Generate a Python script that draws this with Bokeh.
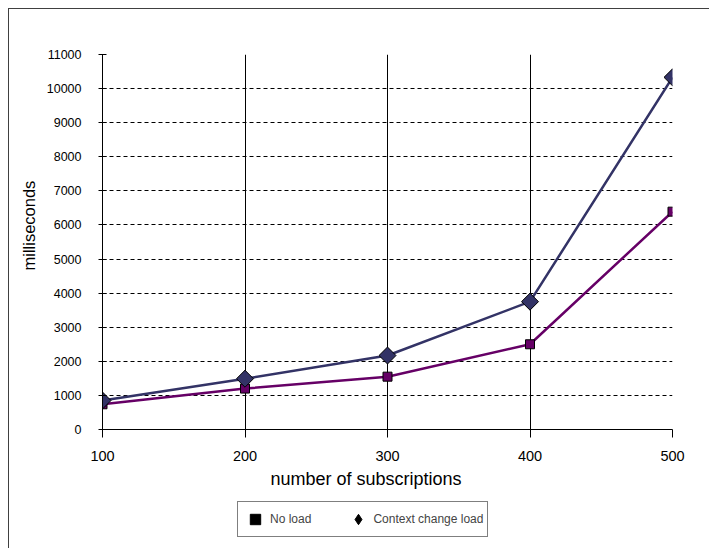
from bokeh.plotting import figure
from bokeh.layouts import column
from bokeh.models import Legend, LegendItem, FixedTicker, Range1d, Title
from bokeh.embed import file_html
from bokeh.resources import INLINE

subscriptions = [100, 200, 300, 400, 500]
no_load = [740, 1200, 1550, 2500, 6390]
context_change_load = [850, 1490, 2170, 3750, 10330]
y_ticks = list(range(0, 12000, 1000))
x_ticks = [100, 200, 300, 400, 500]
series_names = ["No load", "Context change load"]
x_title = "number of subscriptions"
y_title = "milliseconds"

FONT = "Liberation Sans"

p = figure(frame_width=570, frame_height=375, output_backend="svg", toolbar_location=None,
           x_range=Range1d(100, 500), y_range=Range1d(0, 11000),
           min_border_left=93, min_border_right=37, min_border_top=45, min_border_bottom=66)
p.outline_line_color = None
p.background_fill_color = "white"
p.border_fill_color = "white"

# grids
p.xgrid.ticker = FixedTicker(ticks=x_ticks)
p.xgrid.grid_line_color = "black"
p.xgrid.grid_line_width = 1
p.ygrid.ticker = FixedTicker(ticks=y_ticks)
p.ygrid.grid_line_color = "black"
p.ygrid.grid_line_dash = "4 3"
p.ygrid.grid_line_width = 1

# axes
p.xaxis.ticker = FixedTicker(ticks=x_ticks)
p.yaxis.ticker = FixedTicker(ticks=y_ticks)
for ax in (p.xaxis[0], p.yaxis[0]):
    ax.axis_line_color = "black"
    ax.axis_line_width = 1
    ax.major_tick_line_color = "black"
    ax.minor_tick_line_color = None
    ax.major_label_text_font = FONT
    ax.major_label_text_color = "black"
p.xaxis.major_label_text_font_size = "14.5px"
p.yaxis.major_label_text_font_size = "12.5px"
p.xaxis.major_tick_in = 0
p.xaxis.major_tick_out = 8
p.xaxis.major_label_standoff = 13
p.yaxis.major_tick_in = 4
p.yaxis.major_tick_out = 4
p.yaxis.major_label_standoff = 17

# axis titles (offset like the original)
p.add_layout(Title(text=x_title, align="left", offset=168, standoff=6,
                   text_font=FONT, text_font_size="18px", text_font_style="normal",
                   text_color="black"), "below")
p.add_layout(Title(text=y_title, align="left", offset=159, standoff=11,
                   text_font=FONT, text_font_size="16.5px", text_font_style="normal",
                   text_color="black"), "left")

# series
p.line(subscriptions, context_change_load, line_color="#333366", line_width=2.5)
p.line(subscriptions, no_load, line_color="#660066", line_width=2.5)
p.scatter(subscriptions, no_load, marker="square", size=9, fill_color="#660066",
          line_color="black", line_width=1)
p.scatter(subscriptions, context_change_load, marker="square", size=12, angle=0.785398,
          fill_color="#333366", line_color="black", line_width=1)

# legend strip below the chart
q = figure(width=700, height=53, output_backend="svg", toolbar_location=None,
           x_range=Range1d(0, 1), y_range=Range1d(0, 1),
           x_axis_location=None, y_axis_location=None,
           min_border_left=0, min_border_right=0, min_border_top=0, min_border_bottom=0)
q.outline_line_color = None
q.grid.visible = False
q.border_fill_color = "white"

nan = float("nan")
leg_sq = q.scatter([nan], [nan], marker="square", fill_color="black", line_color="black")
leg_dm = q.scatter([nan], [nan], marker="diamond", fill_color="black", line_color="black")

legend = Legend(items=[LegendItem(label=series_names[0], renderers=[leg_sq]),
                       LegendItem(label=series_names[1], renderers=[leg_dm])],
                location=(135, 11), orientation="horizontal",
                label_text_font=FONT, label_text_font_size="12px",
                glyph_width=26, glyph_height=26, label_standoff=2,
                spacing=34, padding=4, margin=0, label_height=14,
                border_line_color="black", border_line_width=1,
                background_fill_color="white", background_fill_alpha=1)
q.add_layout(legend, "center")

layout = column(p, q, spacing=0,
                styles={"margin-left": "8px", "margin-top": "8px",
                        "border-left": "1px solid #404040", "border-top": "1px solid #404040"})

open("out.html", "w").write(file_html(layout, INLINE))
